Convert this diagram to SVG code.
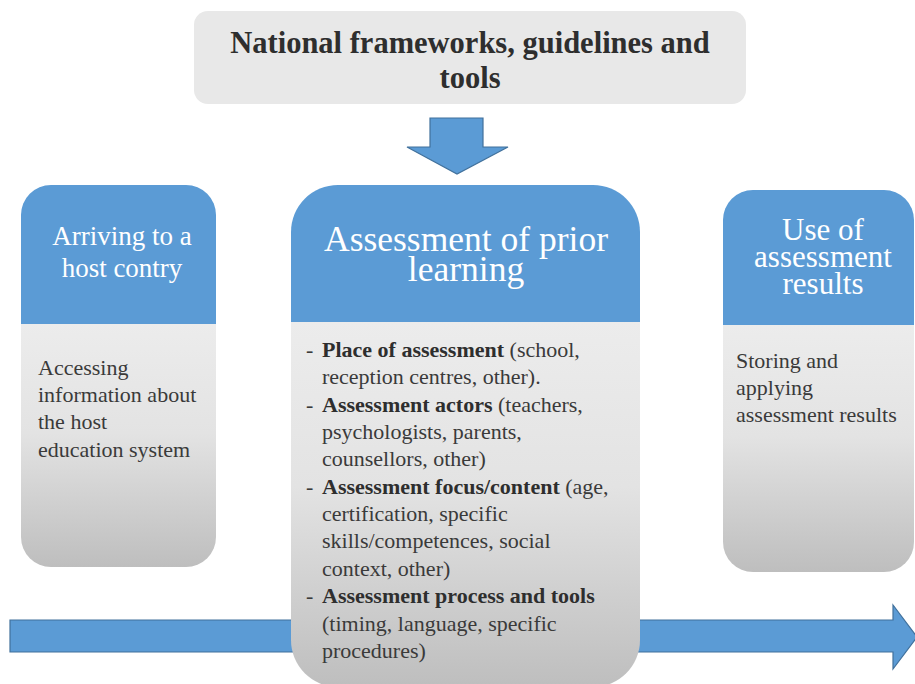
<svg xmlns="http://www.w3.org/2000/svg" width="915" height="684" viewBox="0 0 915 684">
<style>
.t{font-family:"Liberation Serif","Times New Roman",serif;}
.head{fill:#ffffff;text-anchor:middle;}
.body{fill:#3a3a3a;font-size:22px;}
.b{font-weight:bold;fill:#2e2e2e;}
.blue{fill:#5b9bd5;}
.arrow{fill:#5b9bd5;stroke:#41719c;stroke-width:1.2;}
</style>
<defs>
<linearGradient id="g" x1="0" y1="0" x2="0" y2="1">
<stop offset="0" stop-color="#ececec"/>
<stop offset="0.45" stop-color="#e3e3e3"/>
<stop offset="1" stop-color="#bebebe"/>
</linearGradient>
</defs>
<rect width="915" height="684" fill="#ffffff"/>
<g id="connectors">
<polygon class="arrow" points="10,620 893,620 893,605 917,637 893,669 893,652 10,652"/>
<polygon class="arrow" points="430,118 483,118 483,147 508,147 457,174 407,147 430,147"/>
</g>
<g id="top">
<rect x="194" y="11" width="552" height="93" rx="14" fill="#e8e8e8"/>
<text class="t b" font-size="30.5" text-anchor="middle" fill="#262626"><tspan x="470" y="53">National frameworks, guidelines and</tspan><tspan x="470" y="88">tools</tspan></text>
</g>
<g id="left">
<path class="blue" d="M21,324 V215 A30,30 0 0 1 51,185 H186 A30,30 0 0 1 216,215 V324 Z"/>
<path fill="url(#g)" d="M21,324 H216 V537 A30,30 0 0 1 186,567 H51 A30,30 0 0 1 21,537 Z"/>
<text class="t head" font-size="27"><tspan x="122" y="245">Arriving to a</tspan><tspan x="122" y="277">host contry</tspan></text>
<text class="t body"><tspan x="38" y="375">Accessing</tspan><tspan x="38" y="402">information about</tspan><tspan x="38" y="429">the host</tspan><tspan x="38" y="457">education system</tspan></text>
</g>
<g id="middle">
<path class="blue" d="M291,322 V232 A47,47 0 0 1 338,185 H593 A47,47 0 0 1 640,232 V322 Z"/>
<path fill="url(#g)" d="M291,322 H640 V640 A47,47 0 0 1 593,687 H338 A47,47 0 0 1 291,640 Z"/>
<text class="t head" font-size="35.5"><tspan x="466" y="251">Assessment of prior</tspan><tspan x="466" y="281">learning</tspan></text>
<text class="t body">
<tspan x="306" y="357">-</tspan><tspan x="322" y="357"><tspan class="b">Place of assessment</tspan> (school,</tspan>
<tspan x="322" y="384">reception centres, other).</tspan>
<tspan x="306" y="412">-</tspan><tspan x="322" y="412"><tspan class="b">Assessment actors</tspan> (teachers,</tspan>
<tspan x="322" y="439">psychologists, parents,</tspan>
<tspan x="322" y="466">counsellors, other)</tspan>
<tspan x="306" y="494">-</tspan><tspan x="322" y="494"><tspan class="b">Assessment focus/content</tspan> (age,</tspan>
<tspan x="322" y="521">certification, specific</tspan>
<tspan x="322" y="548">skills/competences, social</tspan>
<tspan x="322" y="576">context, other)</tspan>
<tspan x="306" y="603">-</tspan><tspan x="322" y="603" class="b">Assessment process and tools</tspan>
<tspan x="322" y="631">(timing, language, specific</tspan>
<tspan x="322" y="658">procedures)</tspan>
</text>
</g>
<g id="right">
<path class="blue" d="M723,325 V220 A30,30 0 0 1 753,190 H884 A30,30 0 0 1 914,220 V325 Z"/>
<path fill="url(#g)" d="M723,325 H914 V542 A30,30 0 0 1 884,572 H753 A30,30 0 0 1 723,542 Z"/>
<text class="t head" font-size="31"><tspan x="823" y="240">Use of</tspan><tspan x="823" y="267">assessment</tspan><tspan x="823" y="294">results</tspan></text>
<text class="t body"><tspan x="736" y="368">Storing and</tspan><tspan x="736" y="395">applying</tspan><tspan x="736" y="422">assessment results</tspan></text>
</g>
</svg>
